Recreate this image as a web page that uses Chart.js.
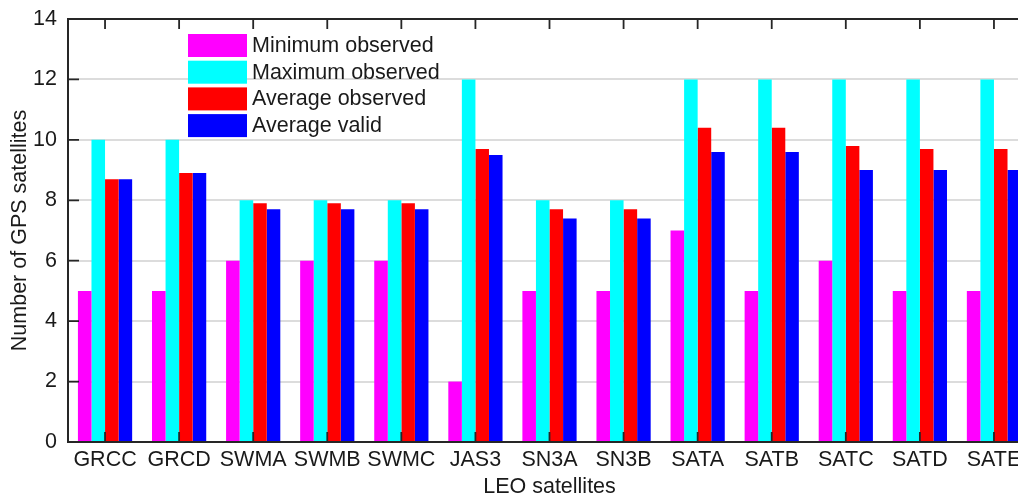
<!DOCTYPE html>
<html>
<head>
<meta charset="utf-8">
<script src="https://cdn.jsdelivr.net/npm/chart.js@4/dist/chart.umd.min.js"></script>
<style>
  html, body { margin: 0; padding: 0; background: #ffffff; overflow: hidden; }
  #wrap { width: 1040px; height: 500px; }
</style>
</head>
<body>
<div id="wrap"><canvas id="c" width="1040" height="500"></canvas></div>
<script>
// LEO satellites and GPS satellite counts
const satellites = ['GRCC', 'GRCD', 'SWMA', 'SWMB', 'SWMC', 'JAS3', 'SN3A', 'SN3B', 'SATA', 'SATB', 'SATC', 'SATD', 'SATE'];
const minObserved = [5, 5, 6, 6, 6, 2, 5, 5, 7, 5, 6, 5, 5];
const maxObserved = [10, 10, 8, 8, 8, 12, 8, 8, 12, 12, 12, 12, 12];
const avgObserved = [8.7, 8.9, 7.9, 7.9, 7.9, 9.7, 7.7, 7.7, 10.4, 10.4, 9.8, 9.7, 9.7];
const avgValid = [8.7, 8.9, 7.7, 7.7, 7.7, 9.5, 7.4, 7.4, 9.6, 9.6, 9.0, 9.0, 9.0];
const yTicks = [0, 2, 4, 6, 8, 10, 12, 14];

const seriesNames = ['Minimum observed', 'Maximum observed', 'Average observed', 'Average valid'];
const seriesColors = ['#ff00ff', '#00ffff', '#ff0000', '#0000ff'];
const seriesData = [minObserved, maxObserved, avgObserved, avgValid];

const FONT = '"Liberation Sans", Arial, Helvetica, sans-serif';
const FS = 21.5;
const AXIS = '#262626';
const TEXT = '#1a1a1a';

// Inside tick marks, top frame line and the in-plot legend
const framePlugin = {
  id: 'frame',
  afterDatasetsDraw(chart) {
    const ctx = chart.ctx;
    const a = chart.chartArea;
    const x = chart.scales.x;
    const y = chart.scales.y;
    ctx.save();
    ctx.strokeStyle = AXIS;
    ctx.lineWidth = 2;
    ctx.beginPath();
    ctx.moveTo(a.left - 1, a.top);
    ctx.lineTo(a.right, a.top);
    ctx.stroke();
    ctx.lineWidth = 1.8;
    ctx.beginPath();
    satellites.forEach((s, i) => {
      const px = x.getPixelForValue(i);
      ctx.moveTo(px, a.bottom);
      ctx.lineTo(px, a.bottom - 10);
      ctx.moveTo(px, a.top);
      ctx.lineTo(px, a.top + 10);
    });
    yTicks.forEach(v => {
      const py = y.getPixelForValue(v);
      ctx.moveTo(a.left, py);
      ctx.lineTo(a.left + 11, py);
    });
    ctx.stroke();

    // legend
    const lx = a.left + 120;
    const ly = a.top + 15;
    const step = 26.7;
    ctx.font = FS + 'px ' + FONT;
    ctx.textBaseline = 'middle';
    ctx.textAlign = 'left';
    chart.data.datasets.forEach((ds, i) => {
      const top = ly + i * step;
      ctx.fillStyle = ds.backgroundColor;
      ctx.fillRect(lx, top, 59, 23);
      ctx.fillStyle = TEXT;
      ctx.fillText(ds.label, lx + 64, top + 12);
    });
    ctx.restore();
  }
};

new Chart(document.getElementById('c'), {
  type: 'bar',
  data: {
    labels: satellites,
    datasets: seriesNames.map((name, i) => ({
      label: name,
      data: seriesData[i],
      backgroundColor: seriesColors[i],
      borderWidth: 0,
      barPercentage: 1,
      categoryPercentage: 0.732
    }))
  },
  options: {
    responsive: false,
    animation: false,
    devicePixelRatio: 1,
    layout: { padding: { top: 19, right: 9, left: 0, bottom: 0 } },
    plugins: {
      legend: { display: false },
      tooltip: { enabled: false }
    },
    scales: {
      x: {
        grid: { display: false, drawTicks: false },
        border: { display: true, color: AXIS, width: 2 },
        ticks: { color: TEXT, font: { family: FONT, size: FS }, padding: 5, maxRotation: 0, autoSkip: false },
        title: { display: true, text: 'LEO satellites', color: TEXT, font: { family: FONT, size: FS }, padding: { top: 0, bottom: 0 } },
        afterFit(scale) {
          scale.height = 58;
          scale.paddingLeft = 0;
          scale.paddingRight = 0;
        }
      },
      y: {
        min: 0,
        max: 14,
        afterBuildTicks(scale) { scale.ticks = yTicks.map(v => ({ value: v })); },
        grid: {
          drawTicks: false,
          color: ctx => (ctx.tick && (ctx.tick.value === 0 || ctx.tick.value === 14)) ? 'rgba(0,0,0,0)' : '#dcdcdc',
          lineWidth: 2
        },
        border: { display: true, color: AXIS, width: 2 },
        ticks: { color: TEXT, font: { family: FONT, size: FS }, padding: 11 },
        title: { display: true, text: 'Number of GPS satellites', color: TEXT, font: { family: FONT, size: FS }, padding: { top: 7, bottom: 0 } },
        afterFit(scale) {
          scale.width = 68;
          scale.paddingTop = 0;
          scale.paddingBottom = 0;
        }
      }
    }
  },
  plugins: [framePlugin]
});
</script>
</body>
</html>
